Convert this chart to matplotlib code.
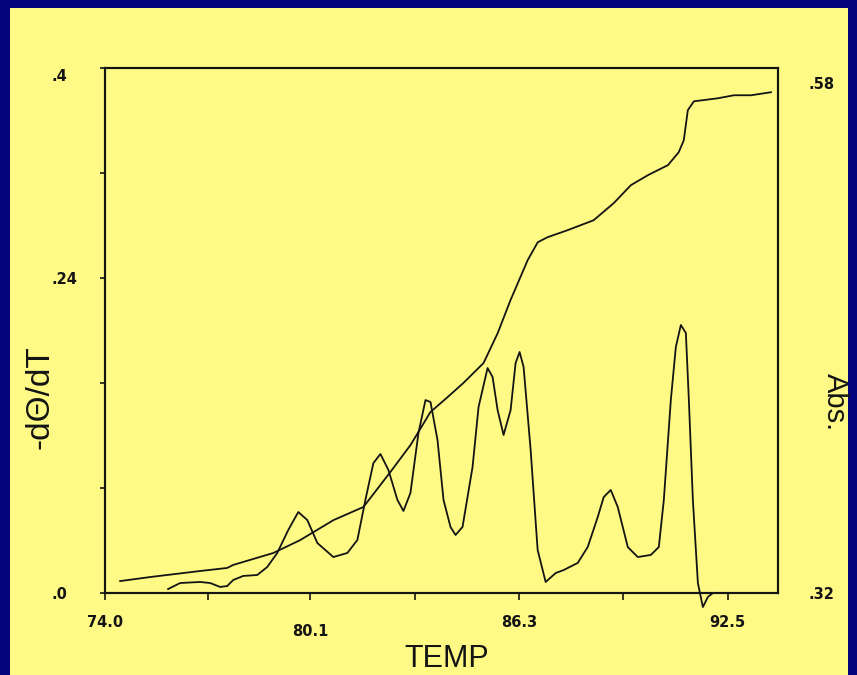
import matplotlib
matplotlib.use("Agg")
import matplotlib.pyplot as plt
from matplotlib.patches import Rectangle
from matplotlib.transforms import ScaledTranslation

# ---- data ----
temp_abs = [74.45, 75.34, 76.83, 77.63, 77.81, 79.00, 79.80, 80.79, 81.68, 82.48,
            83.08, 83.67, 84.18, 84.65, 85.25, 85.67, 86.05, 86.56, 86.86, 87.15,
            87.75, 88.52, 89.12, 89.63, 90.13, 90.73, 91.05, 91.20, 91.32, 91.50,
            92.21, 92.69, 93.20, 93.79]
abs_vals = [0.3259, 0.3279, 0.3309, 0.3324, 0.3339, 0.3398, 0.3462, 0.3561, 0.3626, 0.3799,
            0.3933, 0.4096, 0.4170, 0.4240, 0.4339, 0.4487, 0.4650, 0.4848, 0.4937, 0.4962,
            0.4997, 0.5046, 0.5131, 0.5220, 0.5269, 0.5319, 0.5383, 0.5442, 0.5591, 0.5635,
            0.5650, 0.5665, 0.5665, 0.5680]

temp_deriv = [75.875, 76.232, 76.827, 77.125, 77.423, 77.631, 77.810, 78.107, 78.524, 78.821,
              79.119, 79.446, 79.744, 80.012, 80.310, 80.786, 81.202, 81.500, 81.738, 81.976,
              82.185, 82.423, 82.690, 82.869, 83.077, 83.315, 83.524, 83.673, 83.881, 84.060,
              84.268, 84.417, 84.625, 84.923, 85.101, 85.369, 85.518, 85.667, 85.845, 86.054,
              86.202, 86.321, 86.440, 86.649, 86.857, 87.095, 87.393, 87.631, 88.048, 88.345,
              88.643, 88.821, 89.030, 89.238, 89.536, 89.833, 90.220, 90.458, 90.607, 90.815,
              90.964, 91.113, 91.262, 91.351, 91.470, 91.619, 91.768, 91.917, 92.065]
deriv_vals = [0.0030, 0.0076, 0.0084, 0.0076, 0.0046, 0.0053, 0.0099, 0.0130, 0.0137, 0.0198,
              0.0305, 0.0480, 0.0617, 0.0556, 0.0381, 0.0274, 0.0305, 0.0404, 0.0709, 0.0990,
              0.1059, 0.0937, 0.0709, 0.0625, 0.0762, 0.1219, 0.1470, 0.1455, 0.1166, 0.0709,
              0.0503, 0.0442, 0.0503, 0.0960, 0.1417, 0.1714, 0.1646, 0.1394, 0.1204, 0.1394,
              0.1752, 0.1836, 0.1722, 0.1090, 0.0328, 0.0084, 0.0152, 0.0175, 0.0229, 0.0350,
              0.0579, 0.0731, 0.0785, 0.0655, 0.0350, 0.0274, 0.0290, 0.0350, 0.0709, 0.1470,
              0.1874, 0.2042, 0.1981, 0.1470, 0.0709, 0.0076, -0.0107, -0.0030, 0.0]

x_ticks = [74.0, 77.05, 80.1, 83.2, 86.3, 89.4, 92.5]
x_ticklabels = ['74.0', '', '80.1', '', '86.3', '', '92.5']
y_ticks = [0.0, 0.08, 0.16, 0.24, 0.32, 0.40]
y_ticklabels = ['.0', '', '', '.24', '', '.4']
y2_ticks = [0.32, 0.58]
y2_ticklabels = ['.32', '.58']

# ---- styling ----
W, H = 857, 675
BG_YELLOW = '#FFFA86'
NAVY = '#03037C'
INK = '#141414'

fig = plt.figure(figsize=(W / 100, H / 100), dpi=100, facecolor=NAVY)
bg = fig.add_axes([0, 0, 1, 1], zorder=-10)
bg.set_axis_off()
bg.set_xlim(0, W)
bg.set_ylim(H, 0)
bg.add_patch(Rectangle((10, 8), 838, H, facecolor=BG_YELLOW, edgecolor='none'))

ax = fig.add_axes([105 / W, (H - 593) / H, (778 - 105) / W, (593 - 68) / H], zorder=1)
ax.set_facecolor('none')
for s in ax.spines.values():
    s.set_linewidth(1.5)
    s.set_color(INK)

ax.plot(temp_deriv, deriv_vals, color=INK, lw=1.3, clip_on=False)
ax.set_xlim(74.0, 94.0)
ax.set_ylim(0.0, 0.40)

ax.set_xticks(x_ticks)
ax.set_xticklabels(x_ticklabels)
ax.set_yticks(y_ticks)
ax.set_yticklabels(y_ticklabels)
ax.tick_params(axis='x', direction='out', length=5, width=1.2, color=INK, pad=11,
               labelsize=10.5, labelcolor=INK)
ax.tick_params(axis='y', direction='out', length=3.5, width=1.2, color=INK, pad=35,
               labelsize=10.5, labelcolor=INK)
for lbl in ax.get_yticklabels():
    lbl.set_horizontalalignment('left')
    lbl.set_fontweight('bold')
    if lbl.get_text() == '.4':
        lbl.set_transform(lbl.get_transform() + ScaledTranslation(0, -5 / 72, fig.dpi_scale_trans))
for lbl in ax.get_xticklabels():
    lbl.set_fontweight('bold')
    if lbl.get_text() == '80.1':
        lbl.set_transform(lbl.get_transform() + ScaledTranslation(0, -6 / 72, fig.dpi_scale_trans))

ax2 = ax.twinx()
ax2.set_facecolor('none')
ax2.plot(temp_abs, abs_vals, color=INK, lw=1.3)
ax2.set_ylim(0.32, 0.58)
ax2.set_yticks(y2_ticks)
ax2.set_yticklabels(y2_ticklabels)
ax2.tick_params(axis='y', length=0, pad=22, labelsize=10.5, labelcolor=INK)
for s in ax2.spines.values():
    s.set_linewidth(1.5)
    s.set_color(INK)
for lbl in ax2.get_yticklabels():
    lbl.set_fontweight('bold')
    if lbl.get_text() == '.58':
        lbl.set_transform(lbl.get_transform() + ScaledTranslation(0, -11 / 72, fig.dpi_scale_trans))

label_font = ['Liberation Sans', 'DejaVu Sans']
fig.text(40 / W, 1 - 397 / H, '-d\u0398/dT', rotation=90, ha='center', va='center',
         fontsize=24, family=label_font, color=INK)
fig.text(835 / W, 1 - 402 / H, 'Abs.', rotation=-90, ha='center', va='center',
         fontsize=21, family=label_font, color=INK)
fig.text(447 / W, 8 / H, 'TEMP', ha='center', va='baseline',
         fontsize=22, family=label_font, color=INK)

fig.savefig('out.png', dpi=100, facecolor=NAVY)
